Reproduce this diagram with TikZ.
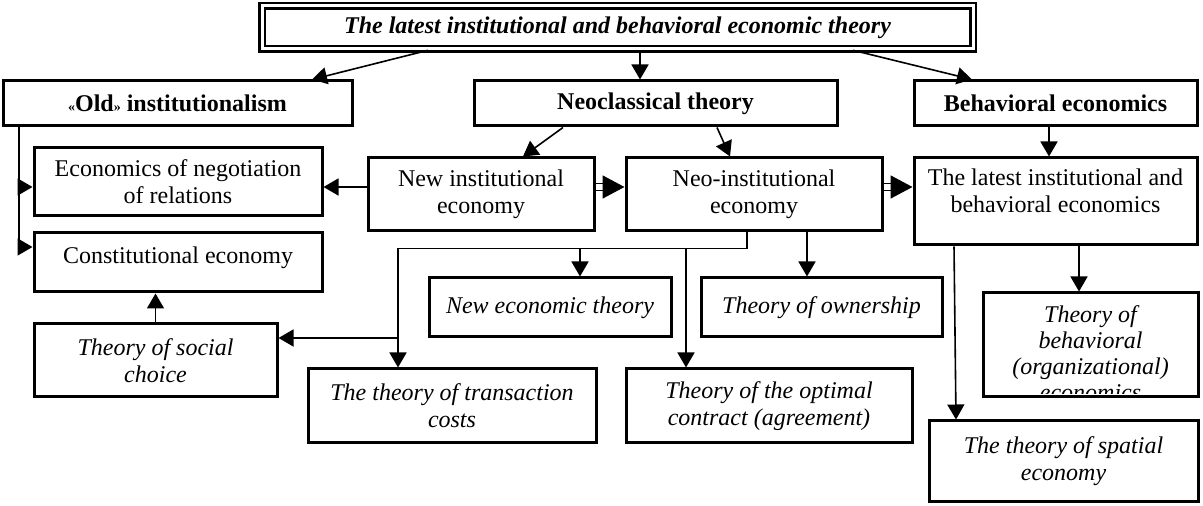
\documentclass[tikz,border=0pt]{standalone}
\usepackage{fontspec}
\setmainfont{Liberation Serif}
\usetikzlibrary{arrows.meta}
\newcommand\dsz{\fontsize{12pt}{13.5pt}\selectfont}

\begin{document}
\begin{tikzpicture}[x=0.5pt,y=-0.5pt,
    box/.style={draw,line width=1.5pt,inner sep=0pt,align=center,font=\dsz},
    hbox/.style={box,font=\dsz\bfseries},
    ibox/.style={box,font=\dsz\itshape},
    arr/.style={line width=0.8pt,-{Triangle[length=7.5pt,width=8.5pt]}},
    dbl/.style={double,line width=0.9pt,double distance=2.6pt},
    bigtip/.style={line width=0.8pt,-{Triangle[length=11pt,width=11.5pt]}}]
    \useasboundingbox (0,0) rectangle (1203,506);

    \node[box,double,line width=1.3pt,double distance=1.5pt,minimum width=355.5pt,minimum height=21.5pt,font=\dsz\bfseries\itshape](top)at(617.5,27.5){The latest institutional and behavioral economic theory};

    \node[hbox,minimum width=174.5pt,minimum height=22.5pt](old)at(177.5,103.5){{\scriptsize«}Old{\scriptsize»} institutionalism};
    \node[hbox,minimum width=181.5pt,minimum height=22.5pt](neocl)at(655.5,103.5){Neoclassical theory};
    \node[hbox,minimum width=141.5pt,minimum height=22.5pt](behav)at(1055.5,103.5){Behavioral economics};

    \node[box,minimum width=144pt,minimum height=34pt](negot)at(178,182){Economics of negotiation\\of relations};
    \node[box,minimum width=144pt,minimum height=29.5pt,text depth=7.5pt](const)at(178,262.5){Constitutional economy};
    \node[box,minimum width=113pt,minimum height=36.5pt](newinst)at(481,194.5){New institutional\\economy};
    \node[box,minimum width=128pt,minimum height=36.5pt](neoinst)at(754,194.5){Neo-institutional\\economy};
    \node[box,minimum width=141.5pt,minimum height=43.5pt,text depth=10.5pt](latest)at(1055.5,201.5){The latest institutional and\\behavioral economics};

    \node[ibox,minimum width=121pt,minimum height=29.5pt](neweco)at(550,307.5){New economic theory};
    \node[ibox,minimum width=120.5pt,minimum height=29.5pt](owner)at(821.5,307.5){Theory of ownership};
    \node[ibox,minimum width=107.5pt,minimum height=52pt](behorg)at(1090.5,345){};
    \node[ibox,minimum width=121.5pt,minimum height=36.5pt](social)at(155.5,360.5){Theory of social\\choice};
    \node[ibox,minimum width=144pt,minimum height=37pt](trans)at(452,406){The theory of transaction\\costs};
    \node[ibox,minimum width=143pt,minimum height=37pt](optim)at(769,406){Theory of the optimal\\contract (agreement)};
    \node[ibox,minimum width=134.5pt,minimum height=40.5pt](spatial)at(1063.5,461.5){The theory of spatial\\economy};

    \begin{scope}
        \clip([yshift=2.6pt]behorg.south west)rectangle(behorg.north east);
        \node[anchor=north,inner sep=0pt,align=center,font=\fontsize{12pt}{13pt}\selectfont\itshape](behtxt)at([yshift=-7pt]behorg.north){Theory of\\behavioral\\(organizational)\\economics};
    \end{scope}

    \draw[arr]([xshift=-94.75pt]top.south)--([xshift=67.25pt]old.north);
    \draw[arr]([xshift=11.25pt]top.south)--([xshift=-7.75pt]neocl.north);
    \draw[arr]([xshift=117.75pt]top.south)--([xshift=-41.75pt]behav.north);

    \draw[arr]([xshift=-46.25pt]neocl.south)--([xshift=21pt]newinst.north);
    \draw[arr]([xshift=30.75pt]neocl.south)--([xshift=-12pt]neoinst.north);
    \draw[arr]([xshift=-3.25pt]behav.south)--([xshift=-3.25pt]latest.north);

    \coordinate(obr)at([xshift=-79.25pt]old.south);
    \coordinate(oend)at([yshift=5.25pt]const.west);
    \draw[line width=0.8pt](obr)--(obr|-oend);
    \draw[arr](obr)|-([yshift=-2.5pt]negot.west);
    \draw[arr](obr)|-([yshift=7.75pt]const.west);

    \draw[arr]([yshift=3.75pt]newinst.west)--([yshift=-2.5pt]negot.east);
    \draw[dbl]([yshift=3.75pt]newinst.east)--([xshift=-10pt,yshift=3.75pt]neoinst.west);
    \draw[bigtip]([xshift=-11pt,yshift=3.75pt]neoinst.west)--([yshift=3.75pt]neoinst.west);
    \draw[dbl]([yshift=3.75pt]neoinst.east)--([xshift=-10pt,yshift=7.25pt]latest.west);
    \draw[bigtip]([xshift=-11pt,yshift=7.25pt]latest.west)--([yshift=7.25pt]latest.west);

    \coordinate(nb)at([xshift=-3.5pt,yshift=-8pt]neoinst.south);
    \coordinate(tb)at([xshift=-27pt]trans.north);
    \coordinate(ne)at([xshift=15pt]neweco.north);
    \coordinate(op)at([xshift=-41.5pt]optim.north);
    \coordinate(sc)at([yshift=11.25pt]social.east);
    \draw[arr]([xshift=-3.5pt]neoinst.south)--(nb)-|(tb);
    \draw[arr](nb-|ne)--(ne);
    \draw[arr](nb-|op)--(op);
    \draw[arr](tb|-sc)--(sc);
    \draw[arr]([xshift=26.5pt]neoinst.south)--([xshift=-7.25pt]owner.north);

    \draw[arr]([xshift=11.75pt]latest.south)--([xshift=-5.75pt]behorg.north);
    \draw[arr]([xshift=-50.75pt]latest.south)--([xshift=-53.75pt]spatial.north);
    \draw[arr](social.north)--([xshift=-11.25pt]const.south);
\end{tikzpicture}
\end{document}
